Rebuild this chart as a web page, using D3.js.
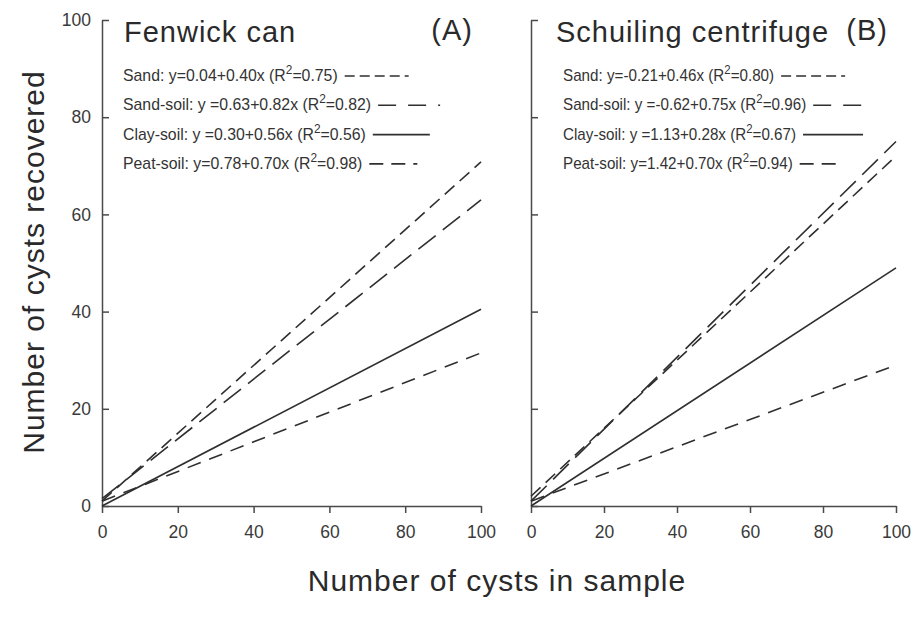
<!DOCTYPE html>
<html lang="en">
<head>
  <meta charset="UTF-8">
  <title>Cyst recovery</title>
  <script src="https://d3js.org/d3.v7.min.js"></script>
  <style>
    body { margin: 0; background: #fff; }
    text { font-family: "Liberation Sans", Arial, sans-serif; fill: #2a2a2a; }
    .tick text { font-size: 17.5px; fill: #3a3a3a; }
    .domain, .tick line { stroke: #4a4a4a; stroke-width: 1.5px; }
    .legend { font-size: 16px; fill: #333; }
    .fit { fill: none; stroke: #2f2f2f; stroke-width: 1.6px; }
    .title { font-size: 29px; letter-spacing: 1px; }
    .axis-title { font-size: 30px; letter-spacing: 1px; }
  </style>
</head>
<body>

<svg width="914" height="626"></svg>

<script>
  // data
  const soils = ["Sand", "Sand-soil", "Clay-soil", "Peat-soil"];
  const titles = ["Fenwick can", "Schuiling centrifuge"];
  const tags = ["(A)", "(B)"];

  const eqA = ["y=0.04+0.40x", "y =0.63+0.82x", "y =0.30+0.56x", "y=0.78+0.70x"];
  const r2A = ["0.75", "0.82", "0.56", "0.98"];
  const eqB = ["y=-0.21+0.46x", "y =-0.62+0.75x", "y =1.13+0.28x", "y=1.42+0.70x"];
  const r2B = ["0.80", "0.96", "0.67", "0.94"];

  // drawn line values at x=0 and x=100
  const startA = [1, 1.5, 0, 1];
  const endA = [31.5, 63, 40.5, 70.8];
  const startB = [1, 1, 0, 2];
  const endB = [29, 75, 49, 72];

  const xTicks = [0, 20, 40, 60, 80, 100];
  const yTicks = [0, 20, 40, 60, 80, 100];

  const dashes = ["14,9", "22,9", null, "13,7"];
  const legendDash = ["10,5", "18,12", null, "14,8,14,8,4"];

  const svg = d3.select("svg");

  const panels = [
    { left: 102, right: 481, eq: eqA, r2: r2A, s: startA, e: endA, showY: true,
      legX: 123, squeeze: 0.99, sampleLen: [64, 62, 57, 56] },
    { left: 531, right: 896, eq: eqB, r2: r2B, s: startB, e: endB, showY: false,
      legX: 563, squeeze: 0.95, sampleLen: [64, 52, 60, 38] }
  ];

  const plotTop = 20, plotBottom = 506;
  const y = d3.scaleLinear().domain([0, 100]).range([plotBottom, plotTop]);

  panels.forEach((p, pi) => {
    const x = d3.scaleLinear().domain([0, 100]).range([p.left, p.right]);
    const g = svg.append("g");

    // x axis
    g.append("g")
      .attr("transform", `translate(0,${plotBottom})`)
      .call(d3.axisBottom(x).tickValues(xTicks).tickSize(7).tickSizeOuter(0).tickPadding(9))
      .call(a => a.selectAll(".tick text").attr("dy", "0.9em"));

    // y axis, ticks pointing inward
    const yAx = g.append("g")
      .attr("transform", `translate(${p.left},0)`)
      .call(d3.axisRight(y).tickValues(yTicks).tickSize(7).tickSizeOuter(0));
    yAx.selectAll(".tick text")
      .attr("x", -11)
      .attr("text-anchor", "end")
      .style("display", p.showY ? null : "none");

    // fitted lines
    const line = d3.line().x(d => x(d[0])).y(d => y(d[1]));
    soils.forEach((s, i) => {
      g.append("path")
        .attr("class", "fit")
        .attr("d", line([[0, p.s[i]], [100, p.e[i]]]))
        .attr("stroke-dasharray", dashes[i]);
    });

    // titles
    g.append("text")
      .attr("class", "title")
      .attr("x", p.legX + (pi === 0 ? 1 : -7))
      .attr("y", 42)
      .text(titles[pi]);
    g.append("text")
      .attr("class", "title")
      .attr("x", p.right - 8)
      .attr("y", 40)
      .attr("text-anchor", "end")
      .text(tags[pi]);

    // legend
    soils.forEach((s, i) => {
      const ty = 81 + i * 29.3;
      const t = g.append("text")
        .attr("class", "legend")
        .attr("transform", `translate(${p.legX},${ty}) scale(${p.squeeze},1)`);
      t.append("tspan").text(`${s}: ${p.eq[i]} (R`);
      t.append("tspan").attr("dy", -7).style("font-size", "12px").text("2");
      t.append("tspan").attr("dy", 7).text(`=${p.r2[i]})`);
      const w = t.node().getComputedTextLength() * p.squeeze;
      g.append("line")
        .attr("class", "fit")
        .attr("x1", p.legX + w + 7)
        .attr("x2", p.legX + w + 7 + p.sampleLen[i])
        .attr("y1", ty - 5)
        .attr("y2", ty - 5)
        .attr("stroke", i === 1 || i === 3 ? "#777" : "#2f2f2f")
        .attr("stroke-width", 1.3)
        .attr("stroke-dasharray", legendDash[i]);
    });
  });

  // axis titles
  svg.append("text")
    .attr("class", "axis-title")
    .attr("transform", "translate(44,262) rotate(-90)")
    .attr("text-anchor", "middle")
    .text("Number of cysts recovered");

  svg.append("text")
    .attr("class", "axis-title")
    .attr("x", 497)
    .attr("y", 591)
    .attr("text-anchor", "middle")
    .text("Number of cysts in sample");
</script>

</body>
</html>
